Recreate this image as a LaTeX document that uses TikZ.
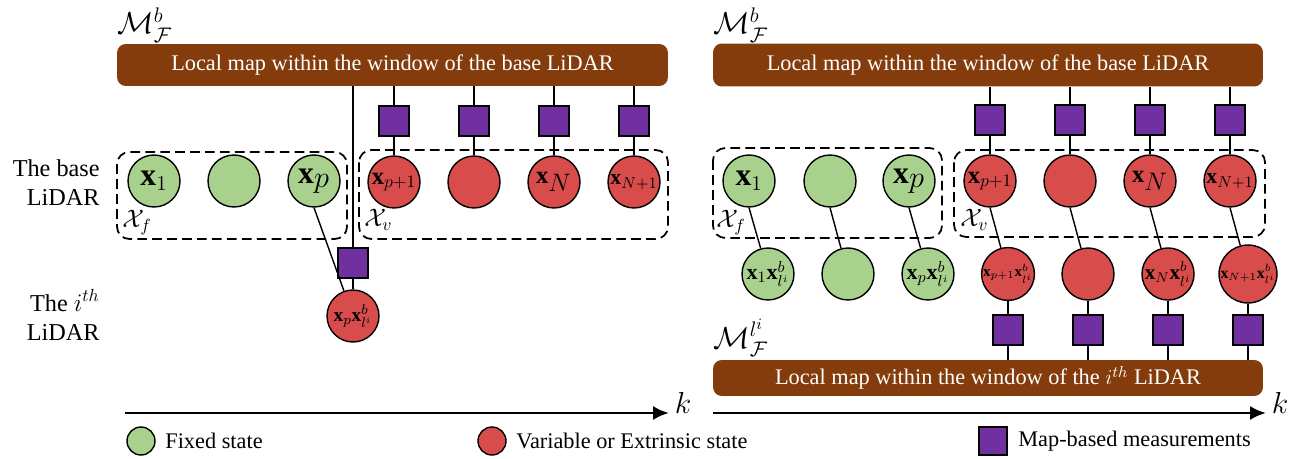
\documentclass[tikz,border=0pt]{standalone}
\usepackage{fontspec}
\setmainfont{Liberation Serif}
\usepackage{amsmath}
\usetikzlibrary{arrows.meta}
\tikzset{>={Latex[length=9pt,width=8pt]}}

\definecolor{mapbrown}{HTML}{843C0C}
\definecolor{fixgreen}{HTML}{A9D18E}
\definecolor{varred}{HTML}{D94C4C}
\definecolor{measpurple}{HTML}{7030A0}
\newcommand{\sz}[1]{\fontsize{#1}{1.2\dimexpr#1\relax}\selectfont}

\tikzset{
	mapbar/.style={fill=mapbrown, rounded corners=5pt, text=white, inner sep=0pt, font=\sz{12.7pt}},
	fixstate/.style={circle, draw, line width=0.8pt, fill=fixgreen, minimum size=1.04cm, inner sep=0pt},
	varstate/.style={fixstate, fill=varred},
	meas/.style={draw, line width=0.8pt, fill=measpurple, minimum size=0.6cm, inner sep=0pt},
	window/.style={draw, dash pattern=on 5.5pt off 3pt, line width=1pt, rounded corners=7pt},
	link/.style={line width=0.8pt},
}

\begin{document}
\begin{tikzpicture}[x=0.02cm, y=-0.02cm]
		\useasboundingbox (0,0) rectangle (1301,459);

		% Side labels
		\node[align=right, anchor=east, inner sep=0pt, font=\sz{13.8pt}] (baselbl) at (100,183) {The base\\LiDAR};
		\node[align=right, anchor=east, inner sep=0pt, font=\sz{13.8pt}] (ilbl) at (100,315) {The $i^{th}$\\LiDAR};

		% ---------- Left panel ----------
		\node[anchor=base west, inner sep=0pt, font=\sz{18pt}] (mapLlbl) at (117,34) {$\mathcal{M}^b_{\mathcal{F}}$};
		\node[mapbar, minimum width=11.02cm, minimum height=0.84cm] (barL) at (392.5,65) {Local map within the window of the base LiDAR};

		% Windows
		\draw[window] (117,152) rectangle (347,239);
		\draw[window] (359,150) rectangle (668,239);
		\node[anchor=base west, inner sep=0pt, font=\sz{14pt}] (xfL) at (122,228) {$\mathcal{X}_f$};
		\node[anchor=base west, inner sep=0pt, font=\sz{14pt}] (xvL) at (364,227) {$\mathcal{X}_v$};

		% States
		\node[fixstate, font=\sz{18pt}] (xA) at (154,181) {$\mathbf{x}_1$};
		\node[fixstate] (xB) at (234,181) {};
		\node[fixstate, font=\sz{18pt}] (xC) at (314,181) {$\mathbf{x}_{\textstyle p}$};
		\node[varstate, font=\sz{14pt}] (vA) at (394,182) {$\mathbf{x}_{p+1}$};
		\node[varstate] (vB) at (474,182) {};
		\node[varstate, font=\sz{14pt}] (vC) at (554,182) {$\mathbf{x}_{\textstyle N}$};
		\node[varstate, font=\sz{12.4pt}] (vD) at (634,182) {$\mathbf{x}_{N+1}$};
		\node[varstate, font=\sz{11pt}] (xpl) at (353,316) {$\mathbf{x}_p\mathbf{x}^b_{l^i}$};

		% Measurements
		\node[meas] (mA) at (394,121) {};
		\node[meas] (mB) at (474,121) {};
		\node[meas] (mC) at (554,121) {};
		\node[meas] (mD) at (634,121) {};
		\node[meas] (mL) at (353,263) {};

		% Links
		\draw[link] (mA |- barL.south) -- (mA) -- (vA);
		\draw[link] (mB |- barL.south) -- (mB) -- (vB);
		\draw[link] (mC |- barL.south) -- (mC) -- (vC);
		\draw[link] (mD |- barL.south) -- (mD) -- (vD);
		\draw[link] (mL |- barL.south) -- (mL) -- (xpl);
		\draw[link] (xC.south) -- (xpl);

		% Time axis
		\coordinate (kL0) at (125,413);
		\coordinate (kL1) at (669,413);
		\draw[->, line width=1.7pt] (kL0) -- (kL1);
		\node[font=\sz{16pt}] (kL) at (683,403) {$k$};

		% ---------- Right panel ----------
		\node[anchor=base west, inner sep=0pt, font=\sz{18pt}] (mapRlbl) at (713,34) {$\mathcal{M}^b_{\mathcal{F}}$};
		\node[mapbar, minimum width=11cm, minimum height=0.86cm] (barR) at (988,65) {Local map within the window of the base LiDAR};
		\node[anchor=base west, inner sep=0pt, font=\sz{18pt}] (mapIlbl) at (713,348) {$\mathcal{M}^{l^i}_{\mathcal{F}}$};
		\node[mapbar, minimum width=11cm, minimum height=0.72cm] (barI) at (988,378) {Local map within the window of the $i^{th}$ LiDAR};

		% Windows
		\draw[window] (713,148) rectangle (942,238);
		\draw[window] (954,150) rectangle (1265,237);
		\node[anchor=base west, inner sep=0pt, font=\sz{14pt}] (xfR) at (716,228) {$\mathcal{X}_f$};
		\node[anchor=base west, inner sep=0pt, font=\sz{14pt}] (xvR) at (960,227) {$\mathcal{X}_v$};

		% States of the base LiDAR
		\node[fixstate, font=\sz{18pt}] (rxA) at (749,181) {$\mathbf{x}_1$};
		\node[fixstate] (rxB) at (830,181) {};
		\node[fixstate, font=\sz{18pt}] (rxC) at (909,181) {$\mathbf{x}_{\textstyle p}$};
		\node[varstate, font=\sz{14pt}] (rvA) at (990,181) {$\mathbf{x}_{p+1}$};
		\node[varstate] (rvB) at (1070,181) {};
		\node[varstate, font=\sz{14pt}] (rvC) at (1150,181) {$\mathbf{x}_{\textstyle N}$};
		\node[varstate, font=\sz{12.4pt}] (rvD) at (1230,181) {$\mathbf{x}_{N+1}$};

		% States of the i-th LiDAR
		\node[fixstate, font=\sz{12.5pt}] (rlA) at (768,274) {$\mathbf{x}_1\mathbf{x}^b_{l^i}$};
		\node[fixstate] (rlB) at (848,274) {};
		\node[fixstate, font=\sz{12.5pt}] (rlC) at (928,274) {$\mathbf{x}_p\mathbf{x}^b_{l^i}$};
		\node[varstate, font=\sz{8.5pt}] (rlD) at (1008,274) {$\mathbf{x}_{p+1}\mathbf{x}^b_{l^i}$};
		\node[varstate] (rlE) at (1088,274) {};
		\node[varstate, font=\sz{12pt}] (rlF) at (1168,274) {$\mathbf{x}_N\mathbf{x}^b_{l^i}$};
		\node[varstate, font=\sz{9pt}] (rlG) at (1248,274) {$\mathbf{x}_{N+1}\mathbf{x}^b_{l^i}$};

		% Measurements
		\node[meas] (rmA) at (990,120) {};
		\node[meas] (rmB) at (1070,120) {};
		\node[meas] (rmC) at (1150,120) {};
		\node[meas] (rmD) at (1230,120) {};
		\node[meas] (rnA) at (1008,330) {};
		\node[meas] (rnB) at (1088,330) {};
		\node[meas] (rnC) at (1168,330) {};
		\node[meas] (rnD) at (1248,330) {};

		% Links
		\draw[link] (rmA |- barR.south) -- (rmA) -- (rvA);
		\draw[link] (rmB |- barR.south) -- (rmB) -- (rvB);
		\draw[link] (rmC |- barR.south) -- (rmC) -- (rvC);
		\draw[link] (rmD |- barR.south) -- (rmD) -- (rvD);
		\draw[link] (rxA.south) -- (rlA);
		\draw[link] (rxB.south) -- (rlB);
		\draw[link] (rxC.south) -- (rlC);
		\draw[link] (rvA.south) -- (rlD);
		\draw[link] (rvB.south) -- (rlE);
		\draw[link] (rvC.south) -- (rlF);
		\draw[link] (rvD.south) -- (rlG);
		\draw[link] (rlD) -- (rnA) -- (rnA |- barI.north);
		\draw[link] (rlE) -- (rnB) -- (rnB |- barI.north);
		\draw[link] (rlF) -- (rnC) -- (rnC |- barI.north);
		\draw[link] (rlG) -- (rnD) -- (rnD |- barI.north);

		% Time axis
		\coordinate (kR0) at (713,413);
		\coordinate (kR1) at (1266,413);
		\draw[->, line width=1.7pt] (kR0) -- (kR1);
		\node[font=\sz{16pt}] (kR) at (1280,403) {$k$};

		% Legend
		\node[fixstate, minimum size=0.56cm] (lgFixed) at (141,441) {};
		\node[anchor=west, inner sep=0pt, font=\sz{12.7pt}] (lgFixedTxt) at (165,441) {Fixed state};
		\node[varstate, minimum size=0.56cm] (lgVar) at (492,441) {};
		\node[anchor=west, inner sep=0pt, font=\sz{12.7pt}] (lgVarTxt) at (516,441) {Variable or Extrinsic state};
		\node[meas, minimum size=0.56cm] (lgMeas) at (993,441) {};
		\node[anchor=west, inner sep=0pt, font=\sz{12.7pt}] (lgMeasTxt) at (1018,441) {Map-based measurements};
	\end{tikzpicture}
\end{document}
